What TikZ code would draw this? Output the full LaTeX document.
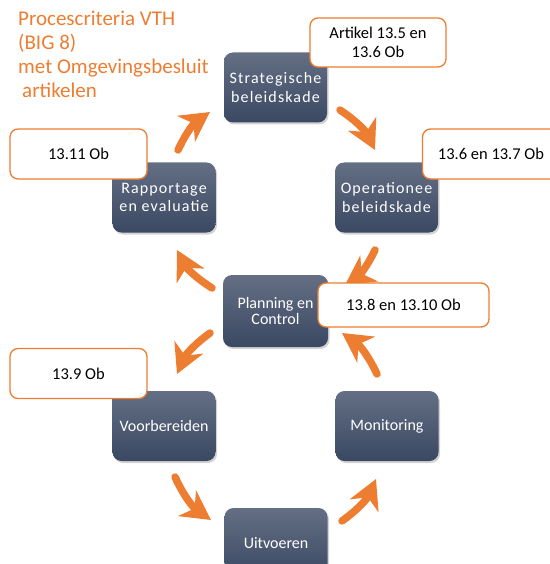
\documentclass[tikz,border=0pt]{standalone}
\usepackage{fontspec}
\setmainfont{Carlito}
\newfontfamily\spacedfont[LetterSpace=7]{Carlito}
\usetikzlibrary{positioning, arrows.meta, shadows}

\definecolor{vthorange}{HTML}{ED7D31}
\definecolor{boxtop}{HTML}{646F84}
\definecolor{boxbottom}{HTML}{3A4862}

\begin{document}
\begin{tikzpicture}[x=1pt, y=-1pt,
    phase/.style={rounded corners=9pt, minimum width=103pt, minimum height=70pt, inner sep=0pt,
      align=center, text=white, top color=boxtop, bottom color=boxbottom,
      drop shadow={shadow xshift=1.5pt, shadow yshift=-2pt, opacity=0.35},
      font=\fontsize{16}{18.5}\selectfont},
    spaced/.style={font=\spacedfont\fontsize{16}{18.5}\selectfont},
    article/.style={draw=vthorange, line width=1.3pt, fill=white, rounded corners=8pt,
      minimum width=137pt, minimum height=50pt, align=center, font=\fontsize{16.5}{19}\selectfont},
    cyclearrow/.style={vthorange, line width=7.5pt, line cap=round,
      -{Stealth[length=29pt, width=31pt, inset=9pt]}}]
      \useasboundingbox (0,0) rectangle (549,564);
      % title
      \node[anchor=north west, inner sep=0pt, align=left, text=vthorange, font=\fontsize{21}{24}\selectfont] (title) at (18,11)
        {Procescriteria VTH\\(BIG 8)\\met Omgevingsbesluit\\\hspace*{4pt}artikelen};
      % phases
      \node[phase, spaced] (strat) at (275.5,87.5) {Strategische\\beleidskade};
      \node[phase, spaced] (oper) at (386.5,197.5) {Operationee\\beleidskade};
      \node[phase, spaced] (rapp) at (164,197.5) {Rapportage\\en evaluatie};
      \node[phase, minimum width=105pt, minimum height=72pt, font=\fontsize{16}{16.5}\selectfont] (plan) at (275.5,311) {Planning en\\Control};
      \node[phase] (voor) at (164,426) {Voorbereiden};
      \node[phase] (moni) at (387,426) {Monitoring};
      \node[phase] (uitv) at (276,543) {Uitvoeren};
      % arrow ends
      \coordinate (a1) at (178,150); \coordinate (b1) at (210,112);
      \coordinate (a2) at (340,110); \coordinate (b2) at (375,150);
      \coordinate (a3) at (375,250); \coordinate (b3) at (345,285);
      \coordinate (a4) at (212,288); \coordinate (b4) at (177,250);
      \coordinate (a5) at (210,333); \coordinate (b5) at (177,374);
      \coordinate (a6) at (175,477); \coordinate (b6) at (211,520);
      \coordinate (a7) at (342,521); \coordinate (b7) at (376,479);
      \coordinate (a8) at (377,374); \coordinate (b8) at (342,333);
      \foreach \i in {1,...,4}
        \draw[cyclearrow] (a\i) to[bend left=15] (b\i);
      \foreach \i in {5,...,8}
        \draw[cyclearrow] (a\i) to[bend right=15] (b\i);
      % articles
      \node[article, minimum width=136pt, minimum height=49pt] (art1) at (378,42.5) {Artikel 13.5 en\\13.6 Ob};
      \node[article] (art2) at (491,154) {13.6 en 13.7 Ob};
      \node[article] (art3) at (78.5,154) {13.11 Ob};
      \node[article, minimum width=171pt, minimum height=44pt] (art4) at (403.5,305) {13.8 en 13.10 Ob};
      \node[article] (art5) at (78.5,373.5) {13.9 Ob};
    \end{tikzpicture}
\end{document}
